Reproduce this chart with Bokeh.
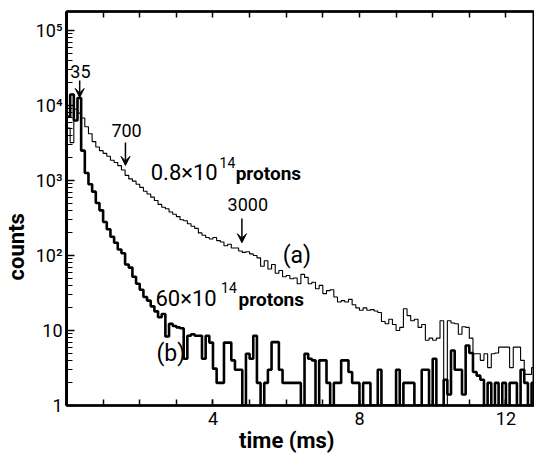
import numpy as np
from bokeh.plotting import figure
from bokeh.models import (Range1d, LinearAxis, FixedTicker, Label,
                          Arrow, VeeHead)
from bokeh.embed import file_html
from bokeh.resources import INLINE

# ---------------- data ----------------
BIN_MS = 0.1  # histogram bin width in ms

# (a) 0.8x10^14 protons  (thin line)
counts_a = [5000, 3200, 8900, 7900, 6800, 5200, 4200, 3300, 2800, 2500,
            2300, 2100, 1860, 1740, 1580, 1380, 1170, 1050, 980, 890,
            810, 720, 660, 600, 540, 480, 440, 420, 380, 355,
            330, 300, 290, 265, 245, 230, 200, 186, 174, 166,
            174, 158, 151, 135, 141, 126, 126, 115, 110, 112,
            105, 100, 93, 72, 85, 66, 76, 58, 63, 52,
            54, 49, 50, 42, 56, 51, 42, 44, 36, 40,
            31, 34, 35, 28, 24, 25, 24, 26, 22, 20,
            18.6, 20, 18.6, 19, 18.2, 17.4, 13.2, 12.3, 14.1, 12,
            10, 11, 19.5, 15.8, 13.5, 14.1, 11, 12, 7.4, 7.9,
            7.4, 7.9, 13.5, 1, 13.5, 12.6, 12.3, 8.9, 11.2, 11,
            7.9, 4.9, 4.9, 4, 4.9, 3.2, 4.9, 5, 6, 6,
            6, 3.2, 6, 6, 4, 2.6, 2.6, 3.2]

# (b) 60x10^14 protons  (thick line)
counts_b = [7100, 14000, 6300, 12600, 2500, 1260, 890, 710, 500, 400,
            280, 224, 178, 148, 120, 107, 76, 69, 52, 42,
            35, 28, 25, 21, 18, 15, 16.6, 8.3, 12.3, 11.5,
            11, 10.7, 4.2, 8.5, 8.9, 8.5, 8.5, 4.2, 8.5, 6.9,
            3.1, 2, 2, 6.9, 6.9, 4, 3, 3, 1, 4.9,
            4.2, 8.5, 2, 1, 2, 3, 7, 7, 3, 2,
            2, 2, 2, 2, 1, 4.9, 4.2, 4, 1, 4,
            4, 2, 1, 2, 2, 4, 4, 2.8, 2, 2,
            1, 2, 2, 1, 1, 3, 1, 1, 1, 1,
            3, 1, 2, 2, 2, 1, 1, 3, 3, 1,
            4.2, 1, 1, 2.2, 1.4, 5.4, 3, 3, 1.4, 6.3,
            5, 2.8, 2.5, 2.2, 1, 2, 1, 2, 1, 2,
            1, 2, 2, 1, 3, 2, 1, 2]

x_major_ticks = [4, 8, 12]
x_minor_ticks = [1, 2, 3, 4, 5, 6, 7, 8, 9, 10, 11, 12]
y_major_ticks = [1, 10, 100, 1000, 10000, 100000]
y_tick_labels = ["1", "10", "10\u00b2", "10\u00b3", "10\u2074", "10\u2075"]
y_minor_ticks = [m * 10 ** k for k in range(0, 6) for m in range(2, 10)]

FONT = "Roboto"
INK = "black"
NBSP = "\u00a0"

# ---------------- figure ----------------
p = figure(width=534, height=458, output_backend="svg", toolbar_location=None,
           x_range=Range1d(0, 12.78), y_range=Range1d(1, 10 ** 5.253),
           y_axis_type="log",
           min_border_left=66, min_border_right=0,
           min_border_top=11, min_border_bottom=53)
p.grid.visible = False
p.background_fill_color = "white"
p.border_fill_color = "white"
p.outline_line_color = INK
p.outline_line_width = 2

edges = np.arange(len(counts_a) + 1) * BIN_MS
ya = list(counts_a) + [counts_a[-1]]
yb = list(counts_b) + [counts_b[-1]]
p.step(x=edges, y=ya, mode="after", line_color=INK, line_width=1.1)
p.step(x=edges, y=yb, mode="after", line_color=INK, line_width=2.6)

# bottom axis
xa = p.xaxis[0]
xa.ticker = FixedTicker(ticks=x_major_ticks, minor_ticks=x_minor_ticks)
xa.axis_line_width = 2.5
xa.axis_line_color = INK
xa.major_tick_in = 6
xa.major_tick_out = 0
xa.minor_tick_in = 6
xa.minor_tick_out = 0
xa.major_tick_line_width = 1.5
xa.minor_tick_line_width = 1.5
xa.major_label_text_font = FONT
xa.major_label_text_font_size = "18px"
xa.major_label_text_color = INK
xa.major_label_standoff = 6
# trailing no-break spaces shift the centred title a little to the left
xa.axis_label = "time (ms)" + NBSP * 5
xa.axis_label_text_font = FONT
xa.axis_label_text_font_style = "bold"
xa.axis_label_text_font_size = "22px"
xa.axis_label_text_color = INK
xa.axis_label_standoff = 0

# left axis
yax = p.yaxis[0]
yax.ticker = FixedTicker(ticks=y_major_ticks, minor_ticks=y_minor_ticks)
yax.major_label_overrides = {t: s for t, s in zip(y_major_ticks, y_tick_labels)}
yax.axis_line_width = 3
yax.axis_line_color = INK
yax.major_tick_in = 8
yax.major_tick_out = 0
yax.minor_tick_in = 6
yax.minor_tick_out = 0
yax.major_tick_line_width = 1.5
yax.minor_tick_line_width = 1.2
yax.major_label_text_font = FONT
yax.major_label_text_font_size = "18px"
yax.major_label_text_color = INK
yax.major_label_standoff = 4
# trailing no-break spaces shift the centred title downwards
yax.axis_label = "counts" + NBSP * 14
yax.axis_label_text_font = FONT
yax.axis_label_text_font_style = "bold"
yax.axis_label_text_font_size = "22px"
yax.axis_label_text_color = INK
yax.axis_label_standoff = 4

# top axis (ticks only)
top = LinearAxis(ticker=FixedTicker(ticks=x_minor_ticks),
                 major_label_overrides={t: "" for t in x_minor_ticks},
                 major_tick_in=6, major_tick_out=0, major_tick_line_width=1.5,
                 axis_line_width=2.5, axis_line_color=INK,
                 major_label_standoff=0)
p.add_layout(top, "above")

# ---------------- annotations ----------------
def lab(x, y, text, size, style="normal", align="center", baseline="middle"):
    p.add_layout(Label(x=x, y=y, text=text, text_font=FONT, text_font_size=size,
                       text_font_style=style, text_color=INK,
                       text_align=align, text_baseline=baseline))

lab(0.38, 28400, "35", "18px")
lab(1.64, 4640, "700", "18px")
lab(4.95, 479, "3000", "18px")
lab(6.29, 100, "(a)", "23px")
lab(2.85, 4.9, "(b)", "23px")

# 0.8 x 10^14 protons
lab(2.30, 1280, "0.8\u00d710", "22px", align="left")
lab(4.18, 1750, "14", "14px", align="left")
lab(4.62, 1240, "protons", "19px", style="bold", align="left")
# 60 x 10^14 protons
lab(2.43, 26.7, "60\u00d710", "22px", align="left")
lab(4.22, 38, "14", "14px", align="left")
lab(4.70, 25.6, "protons", "19px", style="bold", align="left")

# arrows
for xa_, y0, y1 in [(0.36, 21500, 12800), (1.61, 3200, 1590), (4.79, 312, 148)]:
    p.add_layout(Arrow(x_start=xa_, y_start=y0, x_end=xa_, y_end=y1,
                       line_color=INK, line_width=1.5,
                       end=VeeHead(size=9, fill_color=INK, line_color=INK)))

open("out.html", "w").write(file_html(p, INLINE))
